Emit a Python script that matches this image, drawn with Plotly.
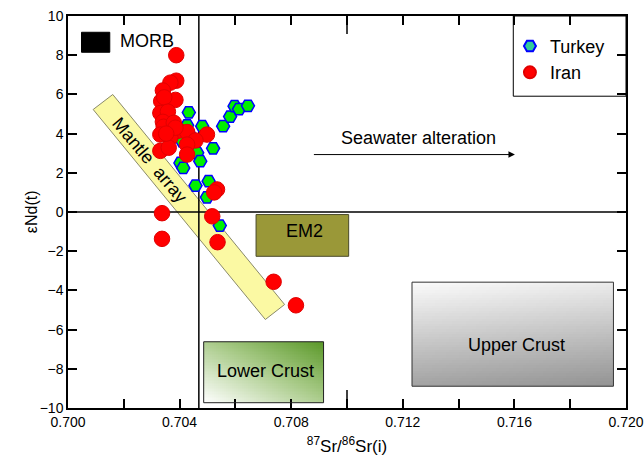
import numpy as np
import plotly.graph_objects as go

# ---------------- data ----------------
turkey_sr = [0.70433, 0.70427, 0.70481, 0.70556, 0.70581, 0.70597, 0.70613, 0.70645,
             0.70520, 0.70463, 0.70474, 0.70403, 0.70413, 0.70457, 0.70504, 0.70498,
             0.70544, 0.70410, 0.70440]
turkey_nd = [5.08, 4.42, 4.38, 4.38, 4.87, 5.40, 5.25, 5.42,
             3.25, 3.02, 2.59, 2.50, 2.25, 1.35, 1.57, 0.75,
             -0.69, 3.60, 3.85]

iran_sr = [0.70388, 0.70388, 0.70367, 0.70340, 0.70385, 0.70334, 0.70345, 0.70331,
           0.70358, 0.70340, 0.70343, 0.70379, 0.70397, 0.70331, 0.70367, 0.70427,
           0.70498, 0.70457, 0.70427, 0.70331, 0.70361, 0.70427, 0.70534, 0.70524,
           0.70337, 0.70517, 0.70337, 0.70536, 0.70737, 0.70817, 0.70385, 0.70352]
iran_nd = [8.00, 6.70, 6.60, 6.20, 5.72, 5.65, 5.85, 5.05,
           5.12, 4.60, 4.35, 4.55, 4.15, 3.95, 3.80, 4.08,
           3.95, 3.65, 3.44, 3.12, 3.28, 2.93, 1.15, 1.00,
           -0.06, -0.22, -1.37, -1.54, -3.56, -4.76, 4.30, 4.00]

x_ticks = [0.700, 0.704, 0.708, 0.712, 0.716, 0.720]
x_ticklabels = ["0.700", "0.704", "0.708", "0.712", "0.716", "0.720"]
x_minor_ticks = [0.702, 0.706, 0.710, 0.714, 0.718]
y_ticks = [-10, -8, -6, -4, -2, 0, 2, 4, 6, 8, 10]

# reference fields (corners in Sr, eNd)
mantle_array = [(0.700902, 5.23), (0.701604, 5.995), (0.707764, -4.72), (0.707073, -5.485)]
morb_box = (0.700484, 0.701497, 8.15, 9.17)
em2_box = (0.70674, 0.71006, -2.26, -0.13)
lower_crust_box = (0.704863, 0.70916, -9.73, -6.62)
upper_crust_box = (0.71233, 0.71955, -8.89, -3.58)
sr_ref = 0.70469
nd_ref = 0.0
seawater_arrow = (0.70876, 0.71602, 2.93)

FONT = "Liberation Sans, Arial, sans-serif"

fig = go.Figure()


def gradient_heatmap(box, colorscale, wx, wy):
    x0, x1, y0, y1 = box
    n, m = 60, 40
    xe = np.linspace(x0, x1, n + 1)
    ye = np.linspace(y0, y1, m + 1)
    u = (np.arange(n) + 0.5) / n
    v = (np.arange(m) + 0.5) / m
    z = wx * u[None, :] + wy * v[:, None]
    fig.add_trace(go.Heatmap(x=xe, y=ye, z=z, colorscale=colorscale, showscale=False,
                             hoverinfo="skip", zmin=min(0, wx + wy, wx, wy),
                             zmax=max(0, wx + wy, wx, wy)))


# Lower crust: white bottom-left -> green top-right
gradient_heatmap(lower_crust_box, [[0, "#ffffff"], [0.55, "#a6c985"], [1, "#5a9828"]], 0.5, 0.5)
# Upper crust: light top -> grey bottom
gradient_heatmap(upper_crust_box, [[0, "#fbfbfb"], [1, "#939393"]], 0.15, -0.85)

# data traces
fig.add_trace(go.Scatter(x=turkey_sr, y=turkey_nd, mode="markers", name="Turkey",
                         showlegend=False,
                         marker=dict(symbol="hexagon2", size=13, color="#00f000",
                                     line=dict(color="#0000ff", width=1.5))))
fig.add_trace(go.Scatter(x=iran_sr, y=iran_nd, mode="markers", name="Iran",
                         showlegend=False,
                         marker=dict(symbol="circle", size=15.5, color="#ff0000",
                                     line=dict(color="#e00000", width=1))))
# legend entries
fig.add_trace(go.Scatter(x=[None], y=[None], mode="markers", name="Turkey",
                         marker=dict(symbol="hexagon2", size=14, color="#33cc99",
                                     line=dict(color="#0000ff", width=1.5))))
fig.add_trace(go.Scatter(x=[None], y=[None], mode="markers", name="Iran",
                         marker=dict(symbol="circle", size=16, color="#ff0000",
                                     line=dict(color="#e00000", width=1))))

shapes = []
# mantle array band
path = "M " + " L ".join(f"{x},{y}" for x, y in mantle_array) + " Z"
shapes.append(dict(type="path", path=path, xref="x", yref="y", fillcolor="#fbf9a3",
                   line=dict(color="#8a8a6a", width=1), layer="below"))
# reference lines
shapes.append(dict(type="line", xref="x", yref="y", x0=sr_ref, x1=sr_ref, y0=-10, y1=10,
                   line=dict(color="black", width=1.5), layer="below"))
shapes.append(dict(type="line", xref="x", yref="y", x0=0.700, x1=0.720, y0=nd_ref, y1=nd_ref,
                   line=dict(color="black", width=1.5), layer="below"))
# MORB
shapes.append(dict(type="rect", xref="x", yref="y", x0=morb_box[0], x1=morb_box[1],
                   y0=morb_box[2], y1=morb_box[3], fillcolor="black",
                   line=dict(color="black", width=1), layer="below"))
# EM2
shapes.append(dict(type="rect", xref="x", yref="y", x0=em2_box[0], x1=em2_box[1],
                   y0=em2_box[2], y1=em2_box[3], fillcolor="#9a9838",
                   line=dict(color="#4a4a2a", width=1), layer="below"))
# crust borders
for b, c in [(lower_crust_box, "#222222"), (upper_crust_box, "#333333")]:
    shapes.append(dict(type="rect", xref="x", yref="y", x0=b[0], x1=b[1], y0=b[2], y1=b[3],
                       line=dict(color=c, width=1), layer="above"))
# longer tick at 0.710 (bottom and top)
shapes.append(dict(type="line", xref="x", yref="paper", x0=0.710, x1=0.710, y0=0, y1=0.046,
                   line=dict(color="black", width=1.5)))
shapes.append(dict(type="line", xref="x", yref="paper", x0=0.710, x1=0.710, y0=0.954, y1=1,
                   line=dict(color="black", width=1.5)))
# legend box
shapes.append(dict(type="rect", xref="paper", yref="paper", x0=0.798, x1=1.0, y0=0.7954, y1=1.0,
                   fillcolor="white", line=dict(color="black", width=1), layer="below"))

annotations = [
    dict(x=morb_box[1] + 0.00028, y=8.70, xref="x", yref="y", text="MORB", showarrow=False,
         xanchor="left", font=dict(size=18, color="black", family=FONT)),
    dict(x=0.70847, y=-0.95, xref="x", yref="y", text="EM2", showarrow=False,
         font=dict(size=18, color="black", family=FONT)),
    dict(x=0.707073, y=-8.12, xref="x", yref="y", text="Lower Crust", showarrow=False,
         font=dict(size=18, color="black", family=FONT)),
    dict(x=0.71609, y=-6.81, xref="x", yref="y", text="Upper Crust", showarrow=False,
         font=dict(size=18, color="black", family=FONT)),
    dict(x=0.70292, y=2.64, xref="x", yref="y", text="Mantle  array", showarrow=False,
         textangle=50, font=dict(size=18, color="black", family=FONT)),
    dict(x=0.712552, y=3.80, xref="x", yref="y", text="Seawater alteration", showarrow=False,
         font=dict(size=18, color="black", family=FONT)),
    dict(x=seawater_arrow[1], y=seawater_arrow[2], ax=seawater_arrow[0], ay=seawater_arrow[2],
         xref="x", yref="y", axref="x", ayref="y", text="", showarrow=True,
         arrowhead=2, arrowsize=1.3, arrowwidth=1, arrowcolor="black"),
    # y-axis title
    dict(x=-0.066, y=0.5, xref="paper", yref="paper", text="εNd(t)", showarrow=False,
         textangle=-90, xanchor="center", yanchor="middle",
         font=dict(size=16, color="black", family=FONT)),
]

fig.update_layout(
    width=644, height=468,
    margin=dict(l=68, r=18, t=16, b=60),
    paper_bgcolor="white", plot_bgcolor="white",
    font=dict(family=FONT, size=14, color="black"),
    shapes=shapes, annotations=annotations,
    showlegend=True,
    legend=dict(x=0.792, y=0.970, xanchor="left", yanchor="top",
                bgcolor="rgba(0,0,0,0)", borderwidth=0,
                font=dict(size=18, family=FONT, color="black"),
                itemsizing="constant"),
    xaxis=dict(range=[0.700, 0.720], tickvals=x_ticks, ticktext=x_ticklabels,
               automargin=False,
               showgrid=False, zeroline=False, showline=True, linecolor="black",
               linewidth=1.5, mirror="ticks", ticks="inside", ticklen=9, tickwidth=1.5,
               tickcolor="black", tickfont=dict(size=14, family=FONT),
               minor=dict(tickvals=x_minor_ticks, ticks="inside", ticklen=9, tickwidth=1.5,
                          tickcolor="black", showgrid=False),
               title=dict(text="<sup>87</sup>Sr/<sup>86</sup>Sr(i)",
                          font=dict(size=17, family=FONT), standoff=12)),
    yaxis=dict(range=[-10, 10], tickvals=y_ticks, automargin=False,
               showgrid=False, zeroline=False, showline=True, linecolor="black",
               linewidth=1.5, mirror="ticks", ticks="inside", ticklen=9, tickwidth=1.5,
               tickcolor="black", tickfont=dict(size=14, family=FONT)),
)

fig.write_html("out.html")
